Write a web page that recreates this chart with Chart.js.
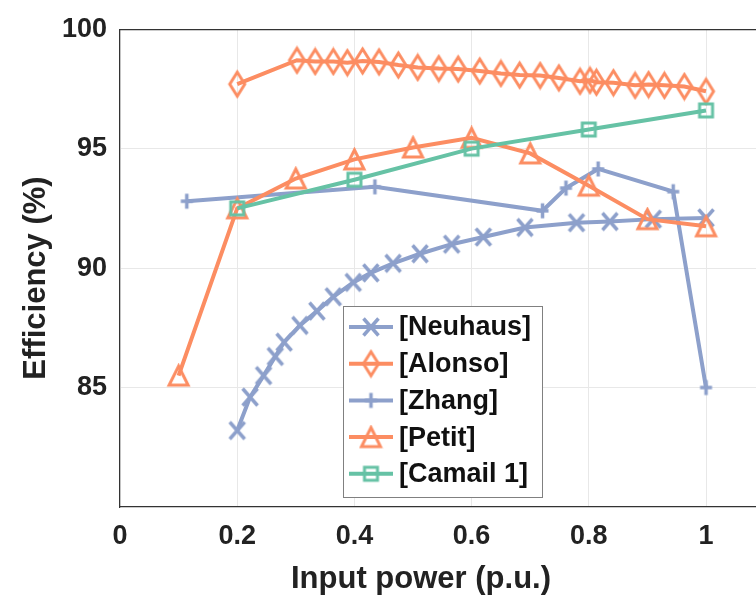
<!DOCTYPE html>
<html>
<head>
<meta charset="utf-8">
<script src="https://cdn.jsdelivr.net/npm/chart.js@4.4.1/dist/chart.umd.min.js"></script>
<style>
  html, body { margin: 0; padding: 0; background: #fff; overflow: hidden; }
  #wrap { width: 756px; height: 599px; position: absolute; left: 0; top: 0; }
  #effChart { display: block; }
</style>
</head>
<body>
<div id="wrap"><canvas id="effChart"></canvas></div>
<script>
// Datos
const seriesNames = ['[Neuhaus]', '[Alonso]', '[Zhang]', '[Petit]', '[Camail 1]'];

const neuhausX = [0.200, 0.222, 0.245, 0.265, 0.280, 0.307, 0.336, 0.364, 0.398, 0.428, 0.466, 0.512, 0.566, 0.620, 0.691, 0.779, 0.836, 0.910, 1.000];
const neuhausY = [83.2, 84.6, 85.5, 86.3, 86.9, 87.6, 88.2, 88.8, 89.4, 89.8, 90.2, 90.6, 91.0, 91.3, 91.7, 91.9, 91.95, 92.05, 92.1];

const alonsoX = [0.200, 0.302, 0.333, 0.364, 0.388, 0.414, 0.442, 0.475, 0.508, 0.544, 0.577, 0.614, 0.650, 0.682, 0.717, 0.749, 0.785, 0.802, 0.813, 0.842, 0.879, 0.902, 0.929, 0.963, 1.000];
const alonsoY = [97.7, 98.7, 98.65, 98.65, 98.6, 98.67, 98.63, 98.5, 98.4, 98.35, 98.33, 98.25, 98.15, 98.08, 98.06, 97.96, 97.82, 97.86, 97.78, 97.76, 97.65, 97.68, 97.65, 97.6, 97.4];

const zhangX = [0.114, 0.435, 0.721, 0.761, 0.816, 0.944, 1.000];
const zhangY = [92.8, 93.4, 92.4, 93.35, 94.15, 93.2, 85.0];

const petitX = [0.1, 0.2, 0.3, 0.4, 0.5, 0.6, 0.7, 0.8, 0.9, 1.0];
const petitY = [85.5, 92.5, 93.75, 94.55, 95.05, 95.45, 94.8, 93.45, 92.05, 91.75];

const camailX = [0.2, 0.4, 0.6, 0.8, 1.0];
const camailY = [92.5, 93.7, 95.0, 95.8, 96.6];

const xTicks = [0, 0.2, 0.4, 0.6, 0.8, 1];
const yTicks = [85, 90, 95, 100];

const BLUE = '#8DA0CB';
const ORANGE = '#FC8D62';
const GREEN = '#66C2A5';
const FONT = "'Liberation Sans', Arial, sans-serif";

// Marcadores huecos estilo Matlab
function makeMarker(type, color, w, h, lw) {
  const pad = lw;
  const c = document.createElement('canvas');
  c.width = w + pad * 2;
  c.height = h + pad * 2;
  const ctx = c.getContext('2d');
  ctx.strokeStyle = color;
  ctx.lineWidth = lw;
  ctx.lineJoin = 'miter';
  const x0 = pad, y0 = pad, x1 = pad + w, y1 = pad + h;
  const cx = c.width / 2, cy = c.height / 2;
  ctx.beginPath();
  if (type === 'diamond') {
    ctx.moveTo(cx, y0); ctx.lineTo(x1, cy); ctx.lineTo(cx, y1); ctx.lineTo(x0, cy); ctx.closePath();
  } else if (type === 'triangle') {
    ctx.moveTo(cx, y0); ctx.lineTo(x1, y1); ctx.lineTo(x0, y1); ctx.closePath();
  } else if (type === 'square') {
    ctx.rect(x0, y0, w, h);
  } else if (type === 'x') {
    ctx.moveTo(x0, y0); ctx.lineTo(x1, y1); ctx.moveTo(x1, y0); ctx.lineTo(x0, y1);
  } else if (type === 'plus') {
    ctx.moveTo(cx, y0); ctx.lineTo(cx, y1); ctx.moveTo(x0, cy); ctx.lineTo(x1, cy);
  }
  ctx.stroke();
  return c;
}

const markers = [
  makeMarker('x', BLUE, 15, 17, 3.5),
  makeMarker('diamond', ORANGE, 15, 24, 3),
  makeMarker('plus', BLUE, 12, 15, 3.5),
  makeMarker('triangle', ORANGE, 19, 19, 3),
  makeMarker('square', GREEN, 13, 13, 3)
];
const colors = [BLUE, ORANGE, BLUE, ORANGE, GREEN];

function toPoints(xs, ys) {
  return xs.map((x, i) => ({ x: x, y: ys[i] }));
}

const allX = [neuhausX, alonsoX, zhangX, petitX, camailX];
const allY = [neuhausY, alonsoY, zhangY, petitY, camailY];

const datasets = seriesNames.map((name, idx) => ({
  label: name,
  data: toPoints(allX[idx], allY[idx]),
  borderColor: colors[idx],
  backgroundColor: colors[idx],
  borderWidth: 4,
  pointStyle: markers[idx],
  pointRadius: 8,
  pointHoverRadius: 8,
  tension: 0,
  fill: false,
  order: seriesNames.length - idx
}));

// Caja del grafico y leyenda
const framePlugin = {
  id: 'frame',
  afterDraw(chart) {
    const ctx = chart.ctx;
    const a = chart.chartArea;
    ctx.save();
    ctx.strokeStyle = '#333';
    ctx.lineWidth = 1.2;
    ctx.beginPath();
    ctx.moveTo(a.left, a.top + 0.5);
    ctx.lineTo(a.right, a.top + 0.5);
    ctx.stroke();

    // leyenda
    const bx = 343, by = 306, bw = 199, bh = 191;
    ctx.fillStyle = '#fff';
    ctx.fillRect(bx, by, bw, bh);
    ctx.strokeStyle = '#808080';
    ctx.lineWidth = 1;
    ctx.strokeRect(bx + 0.5, by + 0.5, bw, bh);
    ctx.font = 'bold 27px ' + FONT;
    ctx.textBaseline = 'middle';
    ctx.textAlign = 'left';
    seriesNames.forEach((name, i) => {
      const y = 327 + i * 36.7;
      ctx.strokeStyle = colors[i];
      ctx.lineWidth = 4;
      ctx.beginPath();
      ctx.moveTo(349, y);
      ctx.lineTo(393, y);
      ctx.stroke();
      const m = markers[i];
      ctx.drawImage(m, 371 - m.width / 2, y - m.height / 2);
      ctx.fillStyle = '#111';
      ctx.fillText(name, 399, y + 1);
    });

    // titulos de ejes
    ctx.fillStyle = '#222';
    ctx.font = 'bold 31px ' + FONT;
    ctx.textAlign = 'center';
    ctx.fillText('Input power (p.u.)', 421, 579);
    ctx.translate(36, 278);
    ctx.rotate(-Math.PI / 2);
    ctx.fillText('Efficiency (%)', 0, 0);
    ctx.restore();
  }
};

new Chart(document.getElementById('effChart'), {
  type: 'line',
  data: { datasets: datasets },
  options: {
    responsive: true,
    maintainAspectRatio: false,
    animation: false,
    layout: { autoPadding: false, padding: { top: 27, right: 0, left: 0, bottom: 0 } },
    plugins: {
      legend: { display: false },
      tooltip: { enabled: false }
    },
    scales: {
      x: {
        type: 'linear',
        min: 0,
        max: 1.0853,
        afterBuildTicks: scale => { scale.ticks = xTicks.map(v => ({ value: v })); },
        afterFit: scale => {
          scale.height = 92;
          scale.paddingLeft = 0;
          scale.paddingRight = 0;
        },
        grid: { color: '#e8e8e8', lineWidth: 1, drawTicks: false },
        border: { display: true, color: '#333', width: 1.2 },
        ticks: {
          padding: 13,
          color: '#222',
          font: { family: FONT, size: 27, weight: 'bold' },
          callback: v => String(+v.toFixed(1))
        }
      },
      y: {
        type: 'linear',
        min: 80,
        max: 100,
        afterBuildTicks: scale => { scale.ticks = yTicks.map(v => ({ value: v })); },
        afterFit: scale => { scale.width = 120; },
        grid: { color: '#e8e8e8', lineWidth: 1, drawTicks: false },
        border: { display: true, color: '#333', width: 1.2 },
        ticks: {
          padding: 13,
          color: '#222',
          font: { family: FONT, size: 27, weight: 'bold' }
        }
      }
    }
  },
  plugins: [framePlugin]
});
</script>
</body>
</html>
